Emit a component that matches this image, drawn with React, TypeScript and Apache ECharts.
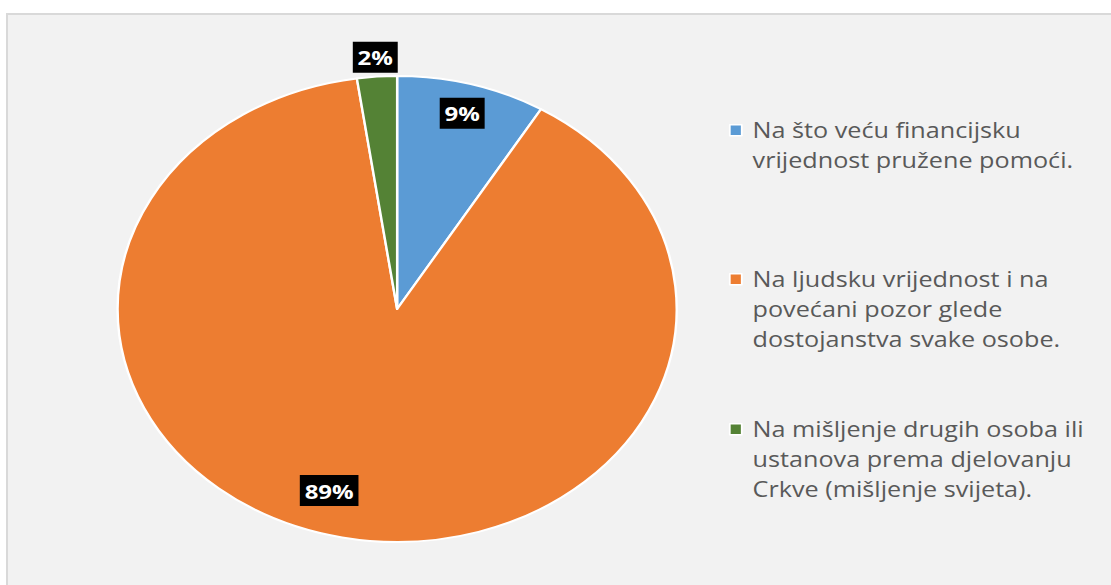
import React, { useEffect, useRef } from "react";
import * as echarts from "echarts";

// ---- data ----
const categories = [
  "Na što veću financijsku vrijednost pružene pomoći.",
  "Na ljudsku vrijednost i na povećani pozor glede dostojanstva svake osobe.",
  "Na mišljenje drugih osoba ili ustanova prema djelovanju Crkve (mišljenje svijeta).",
];
const legendLines = [
  ["Na što veću financijsku", "vrijednost pružene pomoći."],
  ["Na ljudsku vrijednost i na", "povećani pozor glede", "dostojanstva svake osobe."],
  ["Na mišljenje drugih osoba ili", "ustanova prema djelovanju", "Crkve (mišljenje svijeta)."],
];
const values = [8.6, 89.1, 2.3];
const colors = ["#5b9bd5", "#ed7d31", "#548235"];

// ---- layout (not data) ----
const PAGE_W = 1111;
const PAGE_H = 585;
const CHART_W = 926;
const STRETCH = PAGE_W / CHART_W;
const CX = 331;
const CY = 309;
const R = 233;
const labelRadius = [0.872, 0.816, 1.083];
const labelShiftDeg = [0, 6, 0];
const legendFirstLineY = [129.5, 278.5, 428.5];
const LEGEND_LEFT = 607.5;
const LINE_H = 30;

export default function App() {
  const ref = useRef<HTMLDivElement>(null);
  useEffect(() => {
    if (!ref.current) return;
    const chart = echarts.init(ref.current, null, { renderer: "svg" });
    const total = values.reduce((a, b) => a + b, 0);
    const cum: number[] = [];
    let acc = 0;
    values.forEach((v) => {
      cum.push(acc);
      acc += v;
    });

    const legends = categories.map((name, i) => {
      const n = legendLines[i].length;
      const h = n * LINE_H;
      return {
        orient: "vertical",
        left: LEGEND_LEFT,
        top: legendFirstLineY[i] - LINE_H / 2,
        padding: 0,
        data: [name],
        itemWidth: 10,
        itemHeight: h,
        icon: `path://M0,0h0M0,9.5h10v11h-10zM0,${h}h0`,
        itemStyle: { borderColor: "#ffffff", borderWidth: 1.5 },
        selectedMode: false,
        formatter: () => legendLines[i].join("\n"),
        textStyle: {
          fontFamily: "Open Sans",
          fontSize: 21,
          lineHeight: LINE_H,
          color: "#595959",
          padding: [0, 0, 0, 4],
        },
      };
    });

    const option: any = {
      animation: false,
      backgroundColor: "transparent",
      color: colors,
      legend: legends,
      series: [
        {
          type: "pie",
          center: [CX, CY],
          radius: R,
          startAngle: 90,
          clockwise: true,
          avoidLabelOverlap: false,
          data: categories.map((name, i) => ({
            name,
            value: values[i],
            itemStyle: { color: colors[i] },
          })),
          itemStyle: { borderColor: "#ffffff", borderWidth: 2 },
          label: {
            show: true,
            position: "inside",
            formatter: (p: any) => Math.round(p.percent) + "%",
            backgroundColor: "#000000",
            color: "#ffffff",
            fontFamily: "Open Sans",
            fontWeight: "bold",
            fontSize: 20,
            lineHeight: 21,
            padding: [5, 4, 5, 4],
          },
          labelLine: { show: false },
          emphasis: { disabled: true },
          labelLayout: (params: any) => {
            const i = params.dataIndex;
            const mid =
              ((cum[i] + values[i] / 2) / total) * 360 + labelShiftDeg[i];
            const a = (mid * Math.PI) / 180;
            const rr = R * labelRadius[i];
            return {
              x: CX + rr * Math.sin(a),
              y: CY - rr * Math.cos(a),
              align: "center",
              verticalAlign: "middle",
            };
          },
        },
      ],
    };
    chart.setOption(option);
    return () => chart.dispose();
  }, []);

  return (
    <div
      style={{
        position: "fixed",
        left: 0,
        top: 0,
        width: PAGE_W,
        height: PAGE_H,
        background: "#ffffff",
        overflow: "hidden",
      }}
    >
      <div
        style={{
          position: "absolute",
          left: 6,
          top: 13,
          right: 0,
          bottom: 0,
          background: "#f2f2f2",
          borderLeft: "2px solid #d9d9d9",
          borderTop: "2px solid #d9d9d9",
        }}
      />
      <div
        ref={ref}
        style={{
          position: "absolute",
          left: 0,
          top: 0,
          width: CHART_W,
          height: PAGE_H,
          transform: `scaleX(${STRETCH})`,
          transformOrigin: "0 0",
        }}
      />
    </div>
  );
}
